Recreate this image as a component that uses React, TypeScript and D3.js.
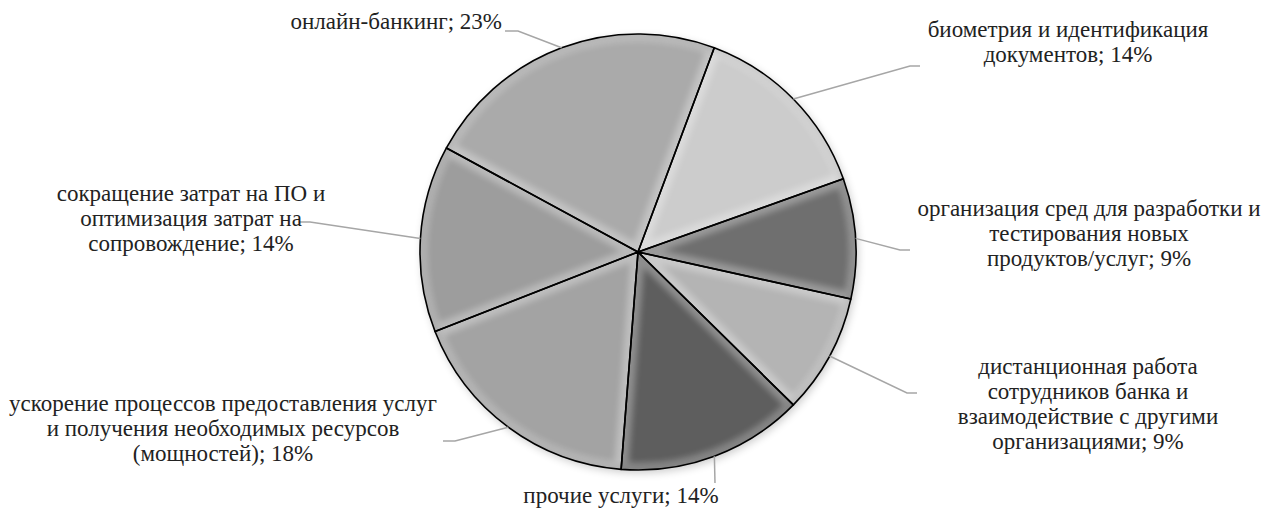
import React from "react";
import * as d3 from "d3";

const categories = [
  "онлайн-банкинг",
  "биометрия и идентификация документов",
  "организация сред для разработки и тестирования новых продуктов/услуг",
  "дистанционная работа сотрудников банка и взаимодействие с другими организациями",
  "прочие услуги",
  "ускорение процессов предоставления услуг и получения необходимых ресурсов (мощностей)",
  "сокращение затрат на ПО и оптимизация затрат на сопровождение",
];
const values = [23, 14, 9, 9, 14, 18, 14];
const labelLines = [
  ["онлайн-банкинг; 23%"],
  ["биометрия и идентификация", "документов; 14%"],
  ["организация сред для разработки и", "тестирования новых", "продуктов/услуг; 9%"],
  ["дистанционная работа", "сотрудников банка и", "взаимодействие с другими", "организациями; 9%"],
  ["прочие услуги; 14%"],
  ["ускорение процессов предоставления услуг", "и получения необходимых ресурсов", "(мощностей); 18%"],
  ["сокращение затрат на ПО и", "оптимизация затрат на", "сопровождение; 14%"],
];
const colors = ["#aaaaaa", "#cccccc", "#6f6f6f", "#b4b4b4", "#5e5e5e", "#a3a3a3", "#9d9d9d"];

// layout: label anchor (x, first baseline, anchor) and leader elbow/end
const labelLayout: { x: number; y: number; anchor: string; elbow: [number, number]; end: [number, number] }[] = [
  { x: 502, y: 29, anchor: "end", elbow: [518, 31], end: [505, 31] },
  { x: 1068, y: 37, anchor: "middle", elbow: [910, 66], end: [920, 66] },
  { x: 1089, y: 216, anchor: "middle", elbow: [900, 250], end: [910, 250] },
  { x: 1088, y: 374, anchor: "middle", elbow: [907, 393], end: [917, 393] },
  { x: 621, y: 503, anchor: "middle", elbow: [715, 483], end: [715, 483] },
  { x: 223, y: 411, anchor: "middle", elbow: [455, 441], end: [443, 441] },
  { x: 191, y: 201, anchor: "middle", elbow: [310, 222], end: [300, 222] },
];

const W = 1262;
const H = 509;
const cx = 638;
const cy = 252;
const R = 218;
const lineH = 25;
const startDeg = -61.5;
const FONT = "'Liberation Serif', 'DejaVu Serif', 'Times New Roman', serif";

export default function App() {
  const pie = d3
    .pie<number>()
    .sort(null)
    .startAngle((startDeg * Math.PI) / 180)
    .endAngle((startDeg * Math.PI) / 180 + 2 * Math.PI);
  const arcs = pie(values);
  const arc = d3.arc<d3.PieArcDatum<number>>().innerRadius(0).outerRadius(R);

  return (
    <svg width={W} height={H} style={{ position: "absolute", left: 0, top: 0, background: "#fff" }}>
      <defs>
        <filter id="blur" x="-20%" y="-20%" width="140%" height="140%">
          <feGaussianBlur stdDeviation="3" />
        </filter>
        <filter id="shadow" x="-20%" y="-20%" width="140%" height="140%">
          <feGaussianBlur stdDeviation="4" />
        </filter>
        {arcs.map((a, i) => (
          <clipPath id={`clip${i}`} key={i}>
            <path d={arc(a) || ""} />
          </clipPath>
        ))}
      </defs>
      <circle cx={cx + 2} cy={cy + 3} r={R} fill="#000" opacity={0.2} filter="url(#shadow)" />
      <g transform={`translate(${cx},${cy})`}>
        {arcs.map((a, i) => (
          <g key={categories[i]}>
            <path d={arc(a) || ""} fill={colors[i]} />
            <g clipPath={`url(#clip${i})`}>
              <path d={arc(a) || ""} fill="none" stroke="#ffffff" strokeWidth={14} opacity={0.3} filter="url(#blur)" />
              <circle r={R} fill="none" stroke="#000" strokeWidth={8} opacity={0.08} filter="url(#blur)" />
            </g>
          </g>
        ))}
        {arcs.map((a, i) => (
          <path key={"s" + i} d={arc(a) || ""} fill="none" stroke="#000" strokeWidth={1.6} strokeLinejoin="round" />
        ))}
      </g>
      <g fill="none" stroke="#a6a6a6" strokeWidth={1.5}>
        {arcs.map((a, i) => {
          const m = (a.startAngle + a.endAngle) / 2;
          const sx = cx + R * Math.sin(m);
          const sy = cy - R * Math.cos(m);
          const L = labelLayout[i];
          return (
            <polyline key={"l" + i}
              points={`${sx},${sy} ${L.elbow[0]},${L.elbow[1]} ${L.end[0]},${L.end[1]}`} />
          );
        })}
      </g>
      <g fill="#222">
        {labelLines.map((lines, i) => {
          const L = labelLayout[i];
          return (
            <text key={"t" + i} x={L.x} y={L.y} textAnchor={L.anchor} fontFamily={FONT} fontSize={23}>
              {lines.map((ln, j) => (
                <tspan key={j} x={L.x} dy={j === 0 ? 0 : lineH}>{ln}</tspan>
              ))}
            </text>
          );
        })}
      </g>
    </svg>
  );
}
